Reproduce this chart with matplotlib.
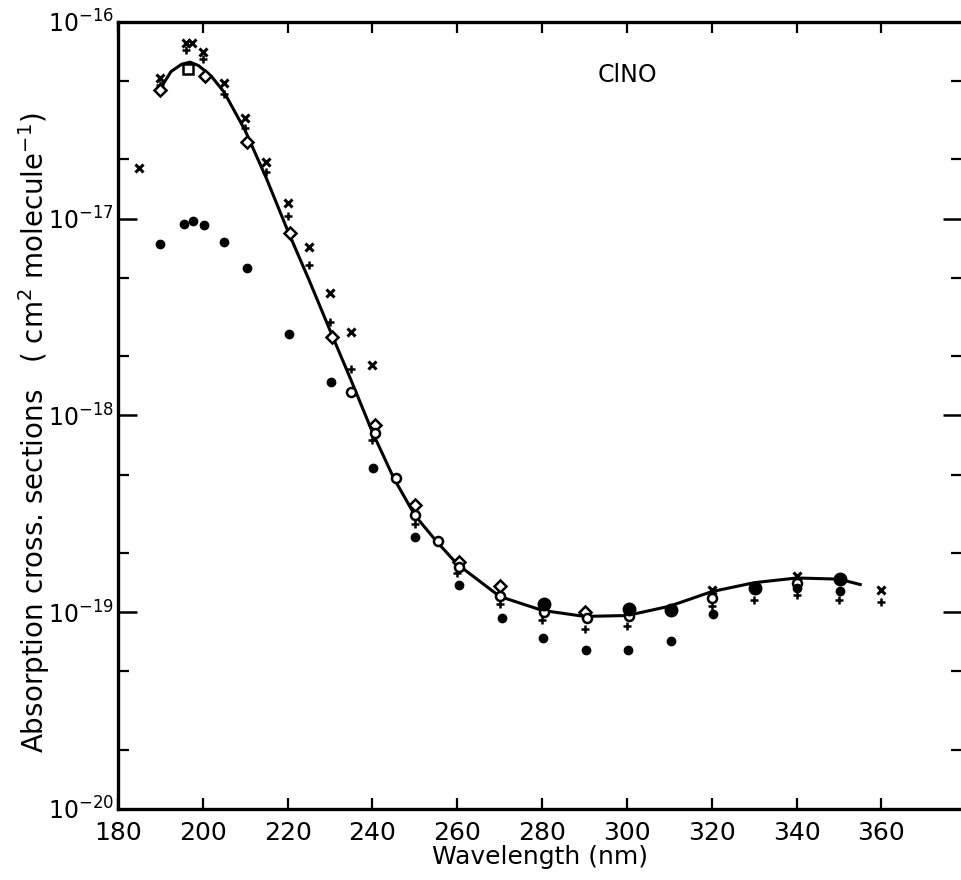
import numpy as np
import matplotlib.pyplot as plt
from matplotlib.ticker import FixedLocator, LogFormatterSciNotation, NullFormatter

# smooth recommended curve
curve_wl = [190, 192.5, 195, 197, 199, 202, 205, 210, 215, 220, 225, 230, 235, 240,
            245, 250, 255, 260, 270, 280, 290, 300, 310, 320, 330, 340, 350, 355]
curve_xs = [4.6e-17, 5.6e-17, 6.1e-17, 6.25e-17, 6.0e-17, 5.3e-17, 4.4e-17, 2.8e-17,
            1.6e-17, 8.7e-18, 4.9e-18, 2.7e-18, 1.5e-18, 8.2e-19, 4.8e-19, 3.1e-19,
            2.3e-19, 1.75e-19, 1.2e-19, 1.02e-19, 9.5e-20, 9.6e-20, 1.07e-19, 1.27e-19,
            1.41e-19, 1.49e-19, 1.47e-19, 1.38e-19]

# x markers
cross_wl = [185, 190, 196, 197.5, 200, 205, 210, 215, 220, 225, 230, 235, 240, 320, 340, 360]
cross_xs = [1.8e-17, 5.2e-17, 7.8e-17, 7.8e-17, 7.0e-17, 4.9e-17, 3.25e-17, 1.95e-17,
            1.2e-17, 7.2e-18, 4.2e-18, 2.65e-18, 1.8e-18, 1.3e-19, 1.52e-19, 1.29e-19]

# + markers
plus_wl = [190, 196, 200, 205, 210, 215, 220, 225, 230, 235, 240, 250, 260, 270, 280,
           290, 300, 320, 330, 340, 350, 360]
plus_xs = [4.8e-17, 7.2e-17, 6.45e-17, 4.3e-17, 2.9e-17, 1.73e-17, 1.03e-17, 5.8e-18,
           3.0e-18, 1.73e-18, 7.5e-19, 2.8e-19, 1.58e-19, 1.1e-19, 9.1e-20, 8.2e-20,
           8.5e-20, 1.07e-19, 1.15e-19, 1.22e-19, 1.15e-19, 1.13e-19]

# open diamonds
diam_wl = [190, 200.5, 210.5, 220.5, 230.5, 240.5, 250, 260.5, 270, 290]
diam_xs = [4.5e-17, 5.3e-17, 2.45e-17, 8.5e-18, 2.5e-18, 8.9e-19, 3.5e-19, 1.8e-19,
           1.35e-19, 1.0e-19]

# open circles
circ_wl = [235, 240.5, 245.5, 250, 255.5, 260.5, 270, 280.5, 290.5, 300.5, 320, 340]
circ_xs = [1.32e-18, 8.1e-19, 4.8e-19, 3.1e-19, 2.3e-19, 1.7e-19, 1.2e-19, 1.0e-19,
           9.3e-20, 9.6e-20, 1.18e-19, 1.41e-19]

# open square
sq_wl = [196.5]
sq_xs = [5.8e-17]

# small filled dots
dot_wl = [190, 195.5, 197.7, 200.3, 205, 210.3, 220.3, 230.2, 240.2, 250, 260.3, 270.5,
          280.3, 290.4, 300.3, 310.3, 320.3, 340.2, 350.3]
dot_xs = [7.4e-18, 9.4e-18, 9.7e-18, 9.3e-18, 7.6e-18, 5.6e-18, 2.6e-18, 1.48e-18,
          5.4e-19, 2.4e-19, 1.38e-19, 9.3e-20, 7.4e-20, 6.4e-20, 6.4e-20, 7.1e-20,
          9.8e-20, 1.32e-19, 1.28e-19]

# large filled dots
big_wl = [280.5, 300.5, 310.3, 330.2, 350.3]
big_xs = [1.1e-19, 1.04e-19, 1.03e-19, 1.32e-19, 1.47e-19]

x_ticks = [180, 200, 220, 240, 260, 280, 300, 320, 340, 360]
y_ticks = [1e-20, 1e-19, 1e-18, 1e-17, 1e-16]
y_minor = [m * 10.0 ** e for e in range(-20, -16) for m in (2, 5)]

fig = plt.figure(figsize=(9.62, 8.8), dpi=100)
ax = fig.add_axes([0.1227, 0.081, 0.8773, 0.894])

ax.plot(curve_wl, curve_xs, color='black', lw=2.2, zorder=2)
ax.plot(cross_wl, cross_xs, 'x', color='black', ms=6, mew=2.2, zorder=3)
ax.plot(plus_wl, plus_xs, '+', color='black', ms=6, mew=1.8, zorder=3)
ax.plot(diam_wl, diam_xs, 'D', mfc='white', mec='black', ms=6, mew=1.8, zorder=4)
ax.plot(circ_wl, circ_xs, 'o', mfc='white', mec='black', ms=6.5, mew=1.8, zorder=4)
ax.plot(sq_wl, sq_xs, 's', mfc='white', mec='black', ms=6.5, mew=1.8, zorder=4)
ax.plot(dot_wl, dot_xs, 'o', color='black', ms=6, zorder=4)
ax.plot(big_wl, big_xs, 'o', color='black', ms=9, zorder=4)

ax.set_yscale('log')
ax.set_xlim(180, 379)
ax.set_ylim(1e-20, 1e-16)

ax.xaxis.set_major_locator(FixedLocator(x_ticks))
ax.yaxis.set_major_locator(FixedLocator(y_ticks))
ax.yaxis.set_major_formatter(LogFormatterSciNotation())
ax.yaxis.set_minor_locator(FixedLocator(y_minor))
ax.yaxis.set_minor_formatter(NullFormatter())

ax.tick_params(axis='both', which='both', direction='in', top=True, right=True)
ax.tick_params(axis='y', which='major', length=14, width=1.8, labelsize=17, pad=3)
ax.tick_params(axis='y', which='minor', length=8, width=1.6)
ax.tick_params(axis='x', which='major', length=8, width=1.6, labelsize=18, pad=9)

for s in ax.spines.values():
    s.set_linewidth(2.4)
ax.spines['right'].set_visible(False)

ax.set_xlabel('Wavelength (nm)', fontsize=18, labelpad=0)
ax.set_ylabel('Absorption cross. sections   ( cm$^2$ molecule$^{-1}$)', fontsize=20)
ax.yaxis.set_label_coords(-0.078, 0.478)

ax.text(300, 5.4e-17, 'ClNO', fontsize=17, ha='center', va='center')

fig.savefig('out.png', dpi=100)
